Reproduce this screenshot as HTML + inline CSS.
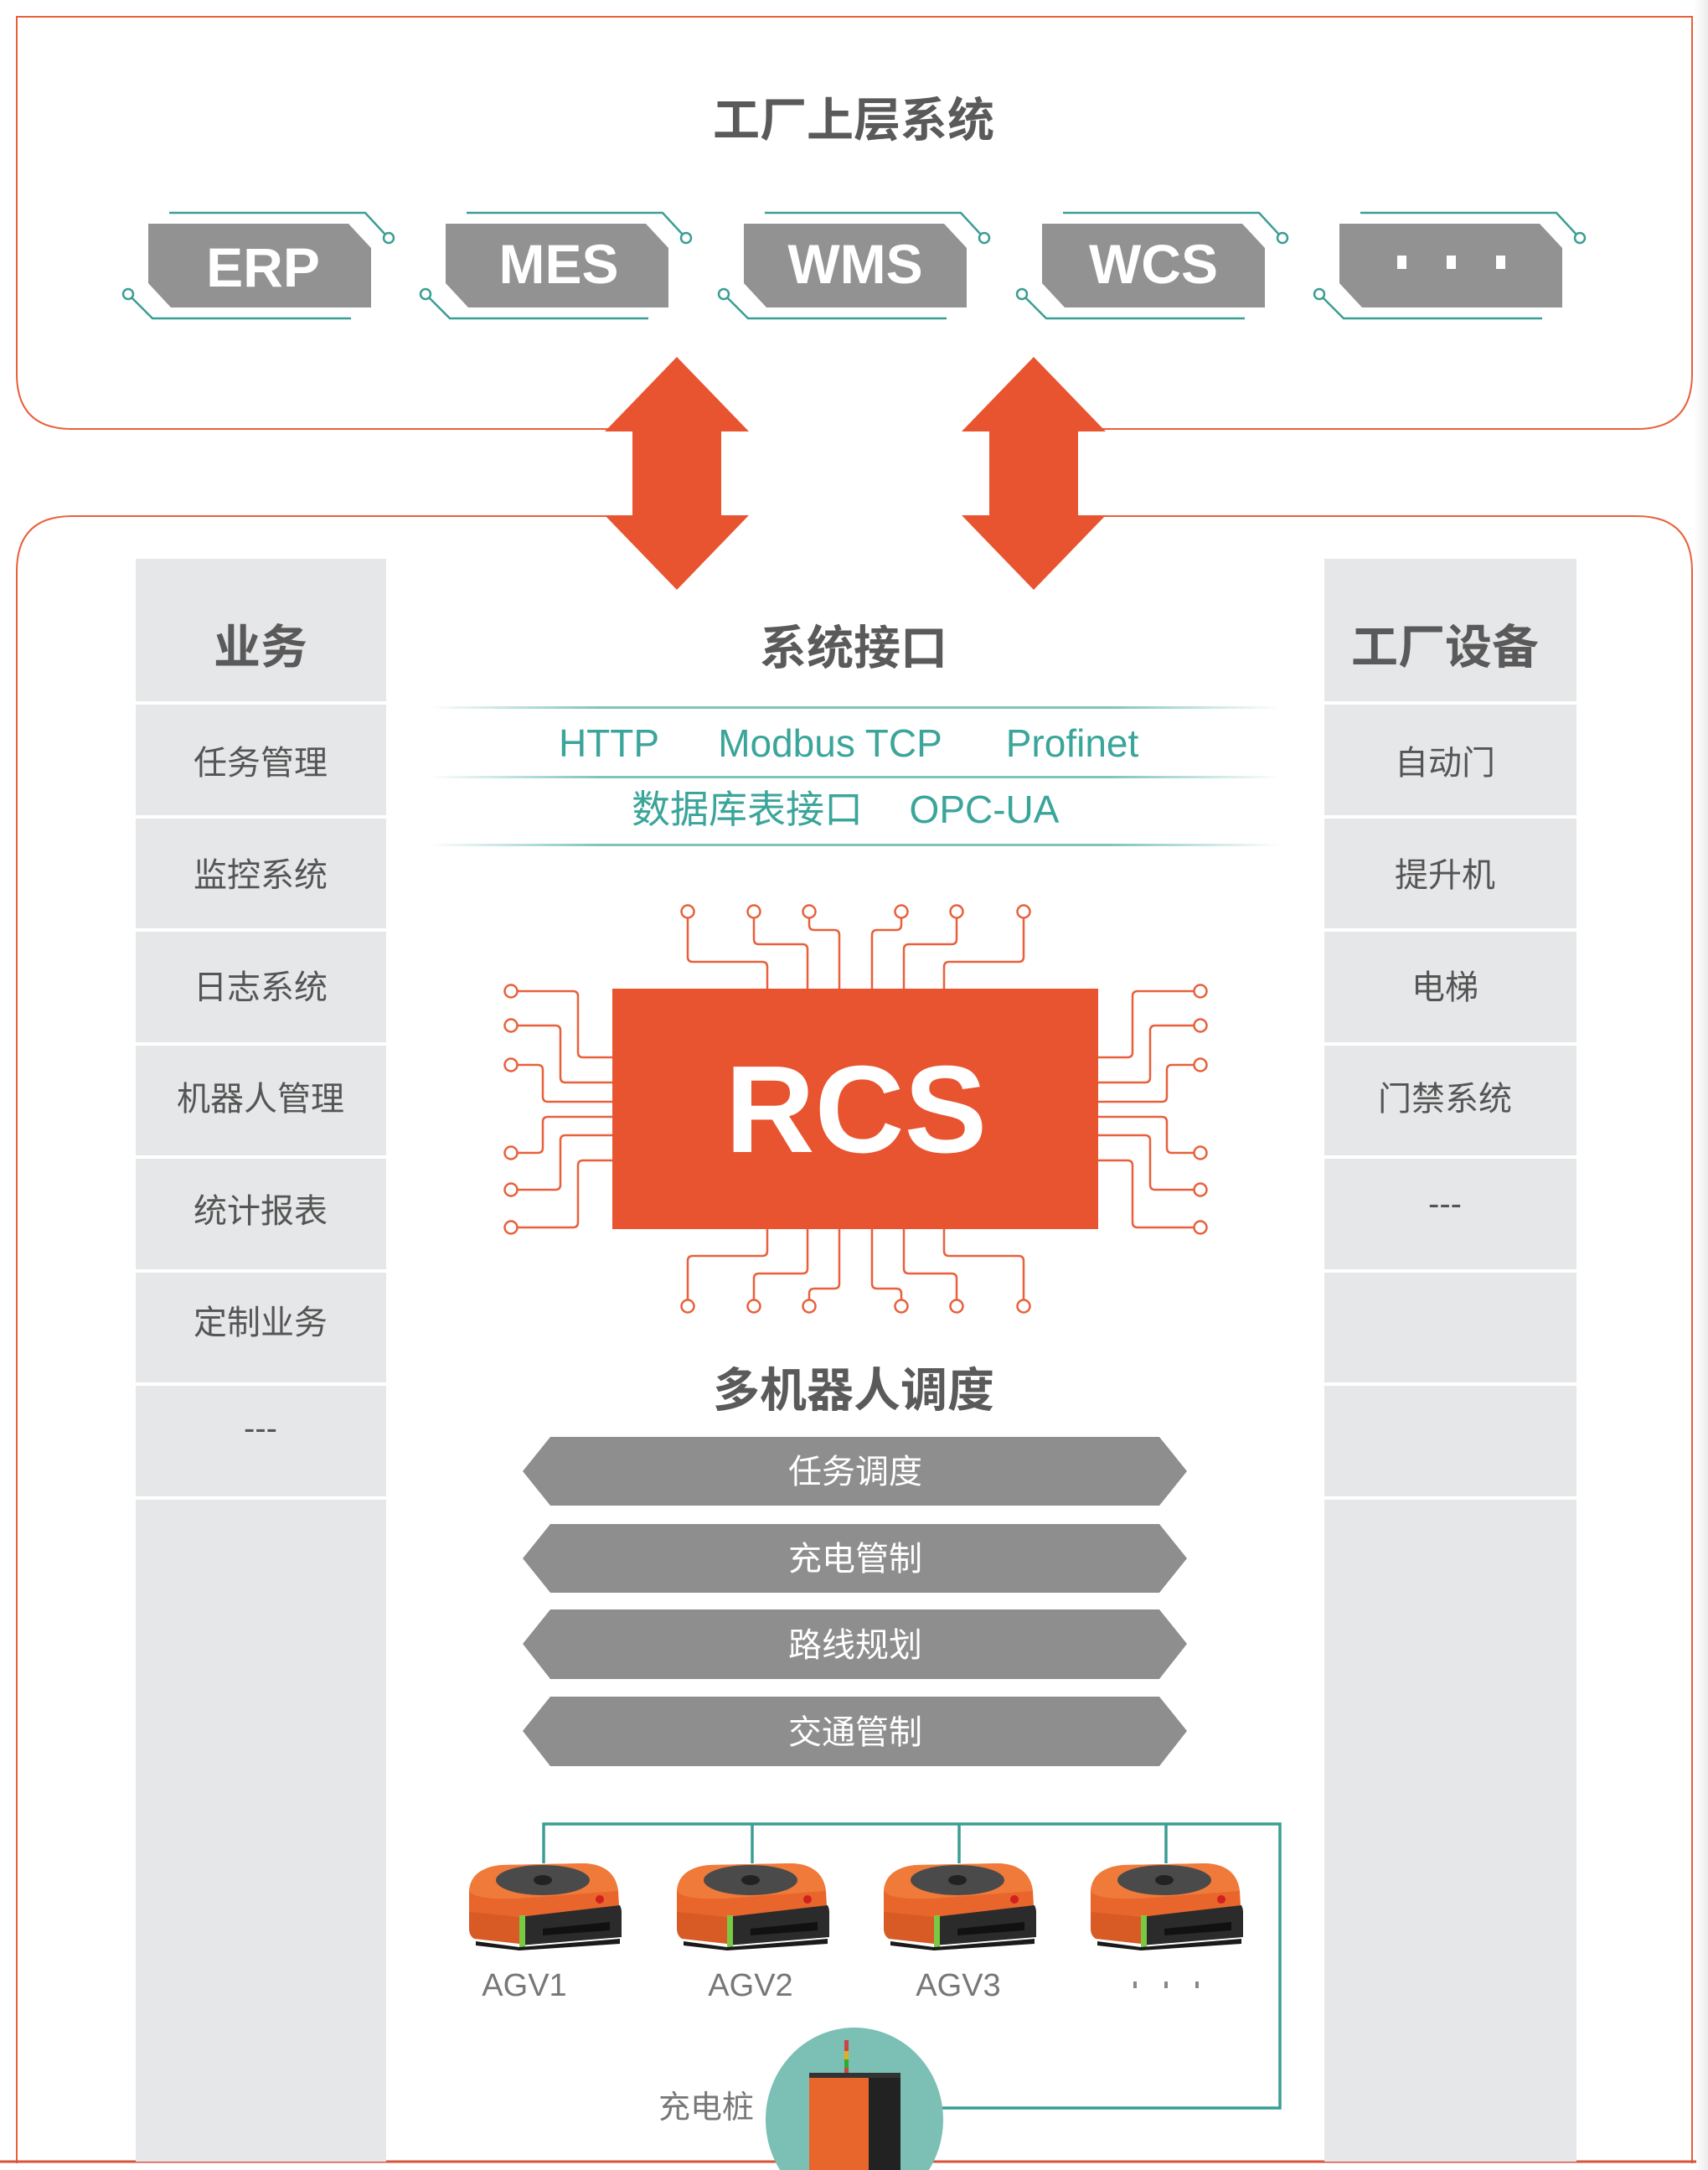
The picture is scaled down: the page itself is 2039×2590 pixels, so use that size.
<!DOCTYPE html>
<html><head><meta charset="utf-8">
<style>
body{margin:0;width:2039px;height:2590px;background:#fff;overflow:hidden;font-family:"Liberation Sans","Noto Sans CJK SC",sans-serif;}
svg{position:absolute;left:0;top:0}
</style></head><body>
<svg width="2039" height="2590" viewBox="0 0 2039 2590" xmlns="http://www.w3.org/2000/svg" font-family="Liberation Sans, Noto Sans CJK SC, sans-serif">
<defs>
<linearGradient id="tl" x1="0" x2="1"><stop offset="0" stop-color="#7fc4bb" stop-opacity="0"/><stop offset="0.2" stop-color="#7fc4bb"/><stop offset="0.8" stop-color="#7fc4bb"/><stop offset="1" stop-color="#7fc4bb" stop-opacity="0"/></linearGradient>
<linearGradient id="rs" x1="0" x2="1"><stop offset="0" stop-color="#fff"/><stop offset="1" stop-color="#ececec"/></linearGradient>
<g id="agv">
<path d="M2,35 Q4,8 40,4 L140,2 Q176,4 180,35 L182,70 L60,78 L2,70 Z" fill="#e8652c"/>
<path d="M2,35 Q4,8 40,4 L140,2 Q176,4 180,35 L60,44 Q10,46 2,35Z" fill="#f07a3a"/>
<ellipse cx="90" cy="22" rx="56" ry="18" fill="#4a4a4a"/>
<ellipse cx="90" cy="22" rx="11" ry="6" fill="#222"/>
<circle cx="158" cy="45" r="5" fill="#d02020"/>
<path d="M2,60 L62,66 L62,98 L8,92 Q2,88 2,80 Z" fill="#d85a25"/>
<path d="M62,66 L182,52 Q184,56 184,60 L184,90 L62,100 Z" fill="#2b2b2b"/>
<rect x="62" y="64" width="7" height="38" fill="#7ac943"/>
<path d="M90,80 L170,72 L170,82 L90,88 Z" fill="#111"/>
<path d="M10,95 L62,102 L182,92 L182,98 L62,106 L10,100 Z" fill="#1a1a1a"/>
</g>
</defs>

<rect x="2022" y="0" width="17" height="2590" fill="url(#rs)"/>

<!-- top box -->
<path d="M20,20 L2020,20 L2020,446 Q2020,512 1954,512 L86,512 Q20,512 20,446 Z" fill="none" stroke="#e8603c" stroke-width="2"/>
<text x="1019" y="163" text-anchor="middle" font-size="56" font-weight="bold" fill="#5a5a5a">工厂上层系统</text>

<!-- tags -->
<g stroke="#3a9e94" stroke-width="2.5" fill="none">
<g id="tg">
<path d="M202,254 L436,254 L460,280"/><circle cx="464" cy="284" r="6" fill="#fff"/>
<path d="M419,380 L182,380 L157,355"/><circle cx="153" cy="351" r="6" fill="#fff"/>
</g>
<use href="#tg" x="355"/><use href="#tg" x="711"/><use href="#tg" x="1067"/><use href="#tg" x="1422"/>
</g>
<g fill="#929292">
<polygon points="177,267 416,267 443,296 443,367 204,367 177,338"/>
<polygon points="532,267 771,267 798,296 798,367 559,367 532,338"/>
<polygon points="888,267 1127,267 1154,296 1154,367 915,367 888,338"/>
<polygon points="1244,267 1483,267 1510,296 1510,367 1271,367 1244,338"/>
<polygon points="1599,267 1838,267 1865,296 1865,367 1626,367 1599,338"/>
</g>
<g fill="#fff" font-size="66" font-weight="bold" text-anchor="middle">
<text x="314" y="342">ERP</text>
<text x="667" y="338">MES</text>
<text x="1021" y="338">WMS</text>
<text x="1377" y="338">WCS</text>
</g>
<g fill="#fff"><rect x="1668" y="305" width="11" height="16"/><rect x="1727" y="305" width="11" height="16"/><rect x="1786" y="305" width="11" height="16"/></g>

<!-- bottom box -->
<path d="M20,2582 L20,682 Q20,616 86,616 L1954,616 Q2020,616 2020,682 L2020,2582" fill="none" stroke="#e8603c" stroke-width="2"/>
<line x1="0" y1="2580" x2="2025" y2="2580" stroke="#d9533a" stroke-width="3"/>

<!-- white gap & arrows -->
<rect x="861" y="500" width="320" height="130" fill="#fff"/>
<polygon fill="#e8542f" points="808,426 894,515 861,515 861,615 894,615 808,704 722,615 755,615 755,515 722,515"/>
<polygon fill="#e8542f" points="1234,426 1320,515 1287,515 1287,615 1320,615 1234,704 1148,615 1181,615 1181,515 1148,515"/>

<!-- columns -->
<rect x="162" y="667" width="299" height="1913" fill="#e6e7e8"/>
<rect x="1581" y="667" width="301" height="1913" fill="#e6e7e8"/>
<g fill="#fff">
<rect x="162" y="837" width="299" height="4"/><rect x="162" y="973" width="299" height="4"/><rect x="162" y="1108" width="299" height="4"/><rect x="162" y="1244" width="299" height="4"/><rect x="162" y="1379" width="299" height="4"/><rect x="162" y="1515" width="299" height="4"/><rect x="162" y="1650" width="299" height="4"/><rect x="162" y="1786" width="299" height="4"/>
<rect x="1581" y="837" width="301" height="4"/><rect x="1581" y="973" width="301" height="4"/><rect x="1581" y="1108" width="301" height="4"/><rect x="1581" y="1244" width="301" height="4"/><rect x="1581" y="1379" width="301" height="4"/><rect x="1581" y="1515" width="301" height="4"/><rect x="1581" y="1650" width="301" height="4"/><rect x="1581" y="1786" width="301" height="4"/>
</g>
<g fill="#5a5a5a" text-anchor="middle" font-weight="bold" font-size="56">
<text x="311" y="792">业务</text>
<text x="1725" y="792">工厂设备</text>
<text x="1019" y="793">系统接口</text>
<text x="1019" y="1679">多机器人调度</text>
</g>
<g fill="#555" text-anchor="middle" font-size="40">
<text x="311" y="924">任务管理</text>
<text x="311" y="1058">监控系统</text>
<text x="311" y="1192">日志系统</text>
<text x="311" y="1325">机器人管理</text>
<text x="311" y="1459">统计报表</text>
<text x="311" y="1592">定制业务</text>
<text x="311" y="1718">---</text>
<text x="1725" y="924">自动门</text>
<text x="1725" y="1058">提升机</text>
<text x="1725" y="1192">电梯</text>
<text x="1725" y="1325">门禁系统</text>
<text x="1725" y="1450">---</text>
</g>

<!-- interface -->
<rect x="512" y="843" width="1016" height="3" fill="url(#tl)"/>
<rect x="512" y="926" width="1016" height="3" fill="url(#tl)"/>
<rect x="512" y="1007" width="1016" height="3" fill="url(#tl)"/>
<g fill="#3aa59a" font-size="46" text-anchor="middle">
<text x="727" y="903">HTTP</text>
<text x="991" y="903">Modbus TCP</text>
<text x="1280" y="903">Profinet</text>
<text x="892" y="982">数据库表接口</text>
<text x="1175" y="982">OPC-UA</text>
</g>

<!-- RCS chip -->
<g stroke="#e8603c" stroke-width="2.5" fill="none">
<path d="M821,1095 V1142 Q821,1148 827,1148 H910 Q916,1148 916,1154 V1180"/>
<path d="M900,1095 V1121 Q900,1127 906,1127 H958 Q964,1127 964,1133 V1180"/>
<path d="M966,1095 V1104 Q966,1110 972,1110 H996 Q1002,1110 1002,1116 V1180"/>
<path d="M1076,1095 V1104 Q1076,1110 1070,1110 H1047 Q1041,1110 1041,1116 V1180"/>
<path d="M1142,1095 V1121 Q1142,1127 1136,1127 H1085 Q1079,1127 1079,1133 V1180"/>
<path d="M1222,1095 V1142 Q1222,1148 1216,1148 H1133 Q1127,1148 1127,1154 V1180"/>
<path d="M821,1552 V1505 Q821,1499 827,1499 H910 Q916,1499 916,1493 V1467"/>
<path d="M900,1552 V1526 Q900,1520 906,1520 H958 Q964,1520 964,1514 V1467"/>
<path d="M966,1552 V1544 Q966,1538 972,1538 H996 Q1002,1538 1002,1532 V1467"/>
<path d="M1076,1552 V1544 Q1076,1538 1070,1538 H1047 Q1041,1538 1041,1532 V1467"/>
<path d="M1142,1552 V1526 Q1142,1520 1136,1520 H1085 Q1079,1520 1079,1514 V1467"/>
<path d="M1222,1552 V1505 Q1222,1499 1216,1499 H1133 Q1127,1499 1127,1493 V1467"/>
<path d="M618,1183 H684 Q690,1183 690,1189 V1256 Q690,1262 696,1262 H731"/>
<path d="M618,1224 H663 Q669,1224 669,1230 V1286 Q669,1292 675,1292 H731"/>
<path d="M618,1271 H642 Q648,1271 648,1277 V1309 Q648,1315 654,1315 H731"/>
<path d="M618,1376 H642 Q648,1376 648,1370 V1339 Q648,1333 654,1333 H731"/>
<path d="M618,1420 H663 Q669,1420 669,1414 V1361 Q669,1355 675,1355 H731"/>
<path d="M618,1465 H684 Q690,1465 690,1459 V1391 Q690,1385 696,1385 H731"/>
<path d="M1425,1183 H1358 Q1352,1183 1352,1189 V1256 Q1352,1262 1346,1262 H1311"/>
<path d="M1425,1224 H1379 Q1373,1224 1373,1230 V1286 Q1373,1292 1367,1292 H1311"/>
<path d="M1425,1271 H1399 Q1393,1271 1393,1277 V1309 Q1393,1315 1387,1315 H1311"/>
<path d="M1425,1376 H1399 Q1393,1376 1393,1370 V1339 Q1393,1333 1387,1333 H1311"/>
<path d="M1425,1420 H1379 Q1373,1420 1373,1414 V1361 Q1373,1355 1367,1355 H1311"/>
<path d="M1425,1465 H1358 Q1352,1465 1352,1459 V1391 Q1352,1385 1346,1385 H1311"/>
<g fill="#fff">
<circle cx="821" cy="1088" r="7.5"/><circle cx="900" cy="1088" r="7.5"/><circle cx="966" cy="1088" r="7.5"/><circle cx="1076" cy="1088" r="7.5"/><circle cx="1142" cy="1088" r="7.5"/><circle cx="1222" cy="1088" r="7.5"/>
<circle cx="821" cy="1559" r="7.5"/><circle cx="900" cy="1559" r="7.5"/><circle cx="966" cy="1559" r="7.5"/><circle cx="1076" cy="1559" r="7.5"/><circle cx="1142" cy="1559" r="7.5"/><circle cx="1222" cy="1559" r="7.5"/>
<circle cx="610" cy="1183" r="7.5"/><circle cx="610" cy="1224" r="7.5"/><circle cx="610" cy="1271" r="7.5"/><circle cx="610" cy="1376" r="7.5"/><circle cx="610" cy="1420" r="7.5"/><circle cx="610" cy="1465" r="7.5"/>
<circle cx="1433" cy="1183" r="7.5"/><circle cx="1433" cy="1224" r="7.5"/><circle cx="1433" cy="1271" r="7.5"/><circle cx="1433" cy="1376" r="7.5"/><circle cx="1433" cy="1420" r="7.5"/><circle cx="1433" cy="1465" r="7.5"/>
</g>
</g>
<rect x="731" y="1180" width="580" height="287" fill="#e8542f"/>
<text x="1022" y="1375" text-anchor="middle" font-size="148" font-weight="bold" fill="#fff">RCS</text>

<!-- hex bars -->
<g fill="#8e8e8e">
<polygon points="657,1715 1384,1715 1417,1756 1384,1797 657,1797 624,1756"/>
<polygon points="657,1819 1384,1819 1417,1860 1384,1901 657,1901 624,1860"/>
<polygon points="657,1921 1384,1921 1417,1962 1384,2004 657,2004 624,1962"/>
<polygon points="657,2025 1384,2025 1417,2066 1384,2108 657,2108 624,2066"/>
</g>
<g fill="#fff" font-size="40" text-anchor="middle">
<text x="1021" y="1770">任务调度</text>
<text x="1021" y="1874">充电管制</text>
<text x="1021" y="1977">路线规划</text>
<text x="1021" y="2081">交通管制</text>
</g>

<!-- AGV network -->
<g stroke="#3a9e94" stroke-width="3.5" fill="none">
<path d="M649,2224 V2177 H1528 V2516 H1120"/>
<path d="M898,2177 V2224"/><path d="M1145,2177 V2224"/><path d="M1392,2177 V2224"/>
</g>
<use href="#agv" x="558" y="2222"/>
<use href="#agv" x="806" y="2222"/>
<use href="#agv" x="1053" y="2222"/>
<use href="#agv" x="1300" y="2222"/>
<g fill="#777" font-size="38" text-anchor="middle">
<text x="626" y="2382">AGV1</text>
<text x="896" y="2382">AGV2</text>
<text x="1144" y="2382">AGV3</text>
<text x="843" y="2528">充电桩</text>
</g>
<g fill="#888"><rect x="1353" y="2365" width="4" height="8"/><rect x="1390" y="2365" width="4" height="8"/><rect x="1427" y="2365" width="4" height="8"/></g>

<!-- charger -->
<ellipse cx="1020" cy="2530" rx="106" ry="110" fill="#7bbfb5"/>
<rect x="1008" y="2435" width="5" height="43" fill="#c44"/>
<rect x="1008" y="2448" width="5" height="10" fill="#e0b020"/>
<rect x="1008" y="2458" width="5" height="10" fill="#3a3"/>
<rect x="966" y="2478" width="75" height="112" fill="#e8652c"/>
<rect x="1037" y="2478" width="38" height="112" fill="#222"/>
<rect x="966" y="2474" width="109" height="6" fill="#333"/>
</svg>
</body></html>
